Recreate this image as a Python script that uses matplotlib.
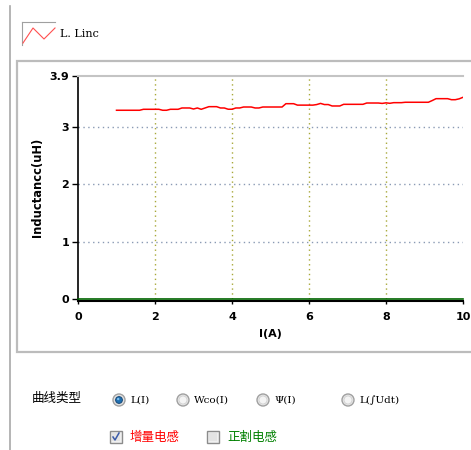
import matplotlib
matplotlib.use("Agg")
import matplotlib.pyplot as plt
from matplotlib.patches import Rectangle, Circle
import numpy as np

# Data
current = np.round(np.arange(1.0, 10.01, 0.1), 1)
inductance = [
    3.30, 3.30, 3.30, 3.30, 3.30, 3.30, 3.30,
    3.317, 3.317, 3.317, 3.317, 3.317,
    3.30, 3.30,
    3.317, 3.317, 3.317,
    3.34, 3.34, 3.34,
    3.322, 3.34, 3.317, 3.34,
    3.363, 3.363, 3.363,
    3.34, 3.34,
    3.318, 3.318,
    3.34, 3.34,
    3.357, 3.357, 3.357,
    3.34, 3.34,
    3.357, 3.357, 3.357, 3.357, 3.357, 3.357,
    3.415, 3.415, 3.415,
    3.39, 3.39, 3.39, 3.39, 3.39,
    3.40, 3.42, 3.40, 3.40,
    3.375, 3.375, 3.375,
    3.404, 3.404, 3.404, 3.404, 3.404, 3.404,
    3.427, 3.427, 3.427, 3.427,
    3.42, 3.43, 3.422, 3.433, 3.433, 3.433,
    3.44, 3.44, 3.44, 3.44, 3.44, 3.44, 3.44,
    3.47,
    3.503, 3.503, 3.503, 3.503,
    3.485, 3.485,
    3.50, 3.527,
]
secant_x = [0, 10]
secant_y = [0, 0]

x_ticks = [0, 2, 4, 6, 8, 10]
y_ticks = [0, 1, 2, 3, 3.9]
y_ticklabels = ["0", "1", "2", "3", "3.9"]

radio_labels = ["L(I)", "Wco(I)", "Ψ(I)", "L(∫Udt)"]
check_labels = ["增量电感", "正割电感"]

W, H = 471, 450
fig = plt.figure(figsize=(W / 100, H / 100), dpi=100)
fig.patch.set_facecolor("white")

# background layer in pixel units for the window widgets
bg = fig.add_axes((0, 0, 1, 1))
bg.set_xlim(0, W)
bg.set_ylim(H, 0)
bg.axis("off")

bg.plot([9.5, 9.5], [6, H], color="#a8a8a8", lw=1.2)
bg.add_patch(Rectangle((17, 61), 470, 290.5, facecolor="white",
                       edgecolor="#bcbcbc", lw=1.6))

# legend swatch
bg.plot([22, 55], [22, 22], color="#a0a0a0", lw=0.8)
bg.plot([22, 22], [22, 45], color="#a0a0a0", lw=0.8)
bg.plot([23, 33, 44, 55], [43, 28, 39, 28], color="#ff5050", lw=0.8)
bg.text(60, 34, "L. Linc", fontsize=8, family="DejaVu Serif",
        va="center", ha="left")

cjk = ["Noto Sans CJK SC", "DejaVu Sans"]
bg.text(32, 398, "曲线类型", fontsize=9, family=cjk, va="center")

radio_x = [119, 183, 263, 348]
for i, (rx, lab) in enumerate(zip(radio_x, radio_labels)):
    bg.add_patch(Circle((rx, 400), 6, facecolor="#e8e8e8",
                        edgecolor="#a0a0a0", lw=1))
    bg.add_patch(Circle((rx, 400), 4, facecolor="#f4f4f4",
                        edgecolor="#d0d0d0", lw=0.6))
    if i == 0:
        bg.add_patch(Circle((rx, 400), 3.4, facecolor="#1f6fb0",
                            edgecolor="#104070", lw=0.6))
        bg.add_patch(Circle((rx - 0.8, 399), 1.2, facecolor="#7ec0f0",
                            edgecolor="none"))
    bg.text(rx + 11, 400, lab, fontsize=7.5, family="DejaVu Serif",
            va="center", ha="left")

check_x = [116, 213]
check_colors = ["#ff0000", "#008000"]
for i, (cx, lab, col) in enumerate(zip(check_x, check_labels, check_colors)):
    bg.add_patch(Rectangle((cx - 6, 431), 12, 12, facecolor="#f0f0f0",
                           edgecolor="#8c8c8c", lw=1))
    bg.add_patch(Rectangle((cx - 4, 433), 8, 8, facecolor="#e4e4e4",
                           edgecolor="none"))
    if i == 0:
        bg.plot([cx - 3, cx - 1, cx + 3], [437, 440, 433],
                color="#3a5aa8", lw=1.1)
    bg.text(cx + 14, 437, lab, fontsize=9, family=cjk, color=col,
            va="center", ha="left")

# chart
ax = fig.add_axes((78 / W, 1 - 298.7 / H, 385 / W, 222.7 / H))
ax.set_facecolor("white")
ax.plot(current, inductance, color="#ff0000", lw=1.1, zorder=3)
ax.plot(secant_x, secant_y, color="#006400", lw=1.2, zorder=3,
        clip_on=False)

ax.set_xlim(0, 10)
ax.set_ylim(0, 3.9)
ax.set_xticks(x_ticks)
ax.set_yticks(y_ticks)
ax.set_yticklabels(y_ticklabels)

for gx in x_ticks[1:-1]:
    ax.axvline(gx, color="#a8a838", lw=1, ls=(0, (1, 2.5)), zorder=1)
for gy in [1, 2, 3]:
    ax.axhline(gy, color="#8a9ab4", lw=1, ls=(0, (1, 2.5)), zorder=1)

ax.spines["right"].set_visible(False)
ax.spines["top"].set_color("#c4c4c4")
ax.spines["top"].set_linewidth(1.5)
ax.spines["left"].set_color("black")
ax.spines["left"].set_linewidth(1.2)
ax.spines["bottom"].set_color("black")
ax.spines["bottom"].set_linewidth(1.5)
ax.spines["bottom"].set_position(("outward", 2))

ax.tick_params(axis="y", length=4.5, width=1, pad=2, labelsize=8)
ax.tick_params(axis="x", length=2.5, width=1, pad=5, labelsize=8)
for lbl in ax.get_xticklabels() + ax.get_yticklabels():
    lbl.set_fontweight("bold")

ax.set_xlabel("I(A)", fontsize=8, fontweight="bold", labelpad=5)
ax.set_ylabel("Inductancc(uH)", fontsize=8.3, fontweight="bold", labelpad=4)

fig.savefig("out.png", dpi=100, facecolor="white")
